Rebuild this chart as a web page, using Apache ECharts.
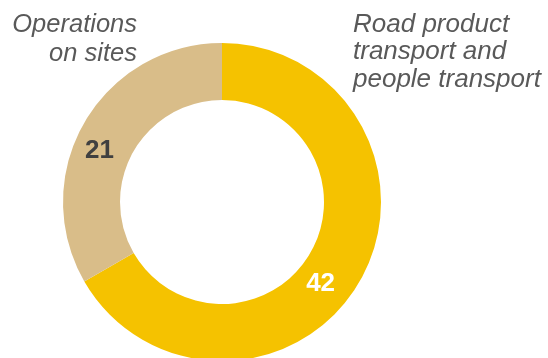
<!DOCTYPE html>
<html>
<head>
<meta charset="utf-8">
<script src="https://cdn.jsdelivr.net/npm/echarts@6/dist/echarts.min.js"></script>
<style>
html,body{margin:0;padding:0;background:#fff;}
#chart{width:548px;height:358px;}
</style>
</head>
<body>
<div id="chart"></div>
<script>
const categories = ["Road product\ntransport and\npeople transport", "Operations\non sites"];
const values = [42, 21];
const colors = ["#F5C200", "#D9BD89"];
const valueLabelColors = ["#FFFFFF", "#404040"];

const chart = echarts.init(document.getElementById('chart'), null, {renderer: 'canvas'});

const labelOffsets = [[-17, 15], [-7, 16]];

chart.setOption({
  animation: false,
  series: [{
    type: 'pie',
    center: [222, 202],
    radius: [102, 159],
    startAngle: 90,
    clockwise: true,
    silent: true,
    itemStyle: { borderWidth: 0 },
    label: {
      show: true,
      position: 'inside',
      formatter: '{c}',
      fontFamily: 'Liberation Sans, Arial, sans-serif',
      fontWeight: 'bold',
      fontSize: 26
    },
    labelLine: { show: false },
    labelLayout: function (p) {
      const o = labelOffsets[p.dataIndex];
      return { dx: o[0], dy: o[1] };
    },
    data: values.map((v, i) => ({
      value: v,
      name: categories[i],
      itemStyle: { color: colors[i] },
      label: { color: valueLabelColors[i] }
    }))
  }],
  graphic: [
    {
      type: 'text',
      x: 137,
      y: 11,
      style: {
        text: categories[1],
        font: 'italic 25.5px "Liberation Sans", Arial, sans-serif',
        fill: '#595959',
        align: 'right',
        verticalAlign: 'top',
        lineHeight: 28.5
      }
    },
    {
      type: 'text',
      x: 353,
      y: 11,
      style: {
        text: categories[0],
        font: 'italic 26px "Liberation Sans", Arial, sans-serif',
        fill: '#595959',
        align: 'left',
        verticalAlign: 'top',
        lineHeight: 27.5
      }
    }
  ]
});
</script>
</body>
</html>
